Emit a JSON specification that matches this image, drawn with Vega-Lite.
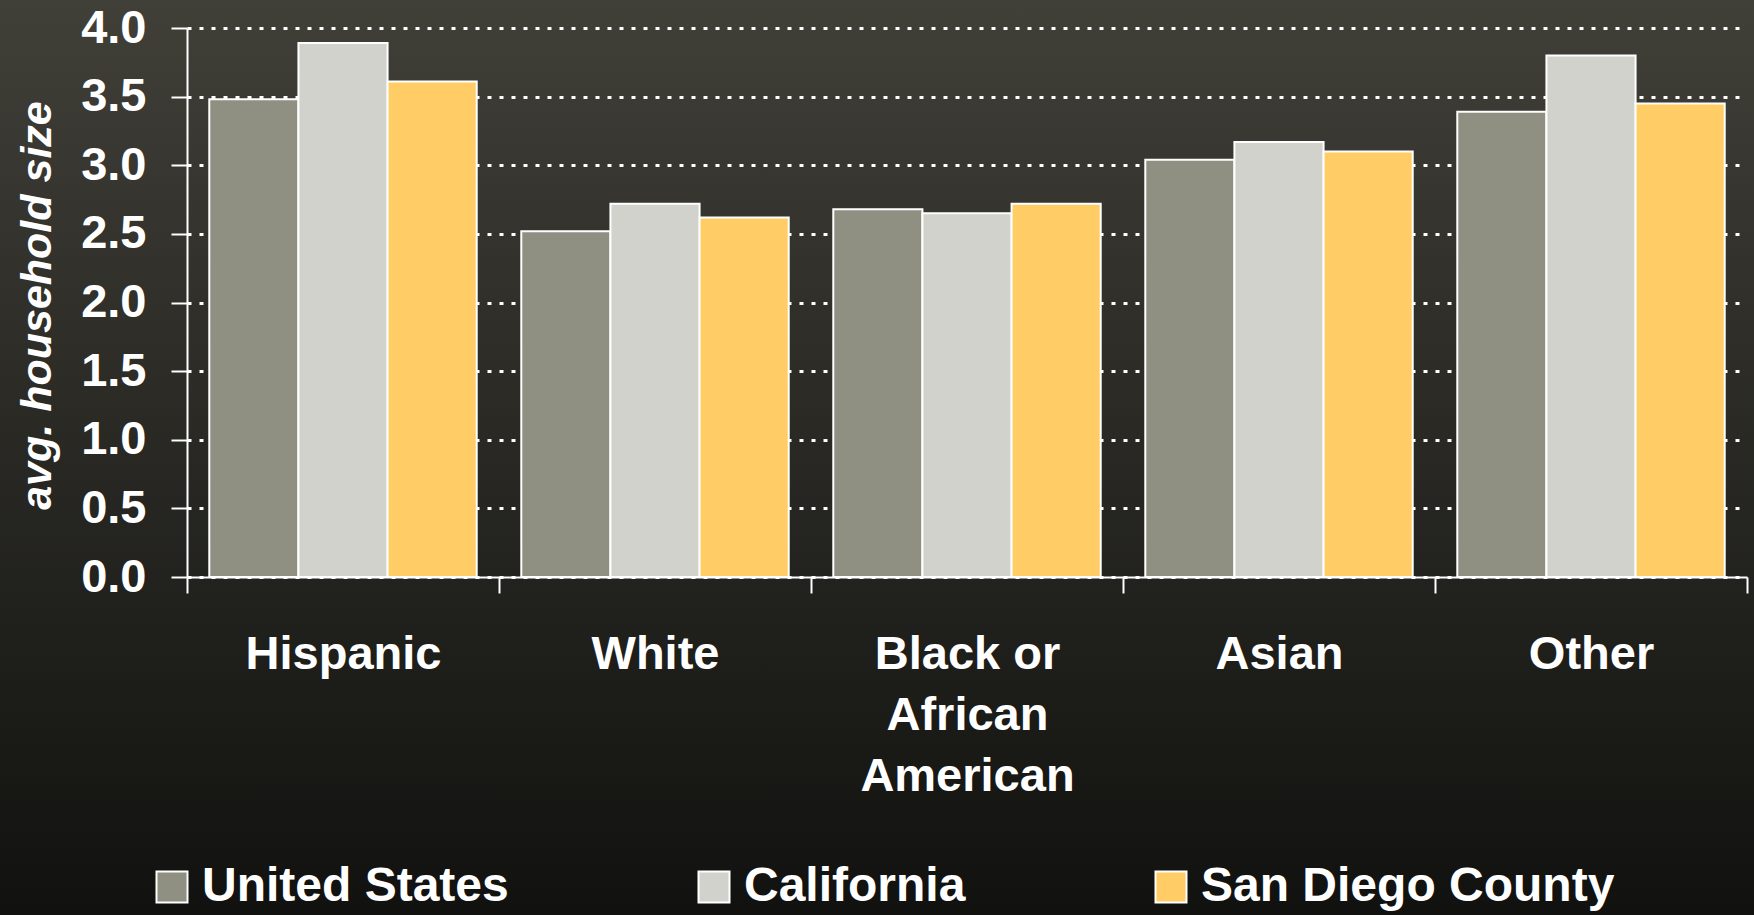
{
  "$schema": "https://vega.github.io/schema/vega-lite/v6.json",
  "width": 1754,
  "height": 915,
  "autosize": "none",
  "padding": 0,
  "background": "#2a2a25",
  "config": {
    "font": "Liberation Sans",
    "view": {"stroke": null, "fill": {"gradient": "linear", "x1": 0, "y1": 0, "x2": 0, "y2": 1, "stops": [{"offset": 0, "color": "#403f38"}, {"offset": 1, "color": "#11110f"}]}}
  },
  "data": {
    "values": [
      {"group": "Hispanic", "region": "United States", "size": 3.48},
      {"group": "Hispanic", "region": "California", "size": 3.89},
      {"group": "Hispanic", "region": "San Diego County", "size": 3.61},
      {"group": "White", "region": "United States", "size": 2.52},
      {"group": "White", "region": "California", "size": 2.72},
      {"group": "White", "region": "San Diego County", "size": 2.62},
      {"group": "Black or African American", "region": "United States", "size": 2.68},
      {"group": "Black or African American", "region": "California", "size": 2.65},
      {"group": "Black or African American", "region": "San Diego County", "size": 2.72},
      {"group": "Asian", "region": "United States", "size": 3.04},
      {"group": "Asian", "region": "California", "size": 3.17},
      {"group": "Asian", "region": "San Diego County", "size": 3.10},
      {"group": "Other", "region": "United States", "size": 3.39},
      {"group": "Other", "region": "California", "size": 3.80},
      {"group": "Other", "region": "San Diego County", "size": 3.45}
    ]
  },
  "mark": {"type": "bar", "stroke": "white", "strokeWidth": 2},
  "encoding": {
    "x": {
      "field": "group",
      "type": "nominal",
      "sort": ["Hispanic", "White", "Black or African American", "Asian", "Other"],
      "scale": {"paddingInner": 0, "paddingOuter": 0, "range": [187, 1747]},
      "axis": {
        "title": null,
        "offset": -338,
        "labelAngle": 0,
        "tickBand": "extent",
        "ticks": true,
        "tickSize": 16,
        "tickWidth": 2,
        "tickColor": "white",
        "domainColor": "white",
        "domainWidth": 2,
        "grid": false,
        "labelPadding": 38,
        "labelFontSize": 47,
        "labelFontWeight": "bold",
        "labelColor": "white",
        "labelBaseline": "top",
        "labelLineHeight": 61,
        "labelLimit": 600,
        "labelExpr": "datum.value == 'Black or African American' ? ['Black or', 'African', 'American'] : datum.label"
      }
    },
    "xOffset": {
      "field": "region",
      "type": "nominal",
      "sort": ["United States", "California", "San Diego County"],
      "scale": {"paddingInner": 0, "paddingOuter": 0.25}
    },
    "y": {
      "field": "size",
      "type": "quantitative",
      "scale": {"domain": [0, 4], "nice": false, "range": [577, 28]},
      "axis": {
        "title": "avg. household size",
        "offset": -187,
        "titleFontSize": 43,
        "titleFontStyle": "italic",
        "titleFontWeight": "bold",
        "titleColor": "white",
        "titleAngle": -90,
        "titleBaseline": "alphabetic",
        "titleAlign": "center",
        "titleX": -137,
        "titleY": 305,
        "values": [0, 0.5, 1, 1.5, 2, 2.5, 3, 3.5, 4],
        "format": ".1f",
        "labelFontSize": 47,
        "labelFontWeight": "bold",
        "labelColor": "white",
        "labelPadding": 25,
        "tickSize": 16,
        "tickWidth": 2,
        "tickColor": "white",
        "domainColor": "white",
        "domainWidth": 2,
        "grid": true,
        "gridColor": "white",
        "gridWidth": 3,
        "gridDash": [4, 8]
      }
    },
    "color": {
      "field": "region",
      "type": "nominal",
      "scale": {
        "domain": ["United States", "California", "San Diego County"],
        "range": ["#8f8f82", "#d1d2cc", "#ffcc66"]
      },
      "legend": {
        "title": null,
        "orient": "none",
        "direction": "horizontal",
        "legendX": 148,
        "legendY": 863,
        "symbolType": "square",
        "symbolSize": 961,
        "symbolStrokeColor": "white",
        "symbolStrokeWidth": 2,
        "symbolOpacity": 1,
        "labelFontSize": 48,
        "labelFontWeight": "bold",
        "labelColor": "white",
        "labelOffset": 6,
        "labelLimit": 600,
        "columnPadding": 181
      }
    }
  }
}
